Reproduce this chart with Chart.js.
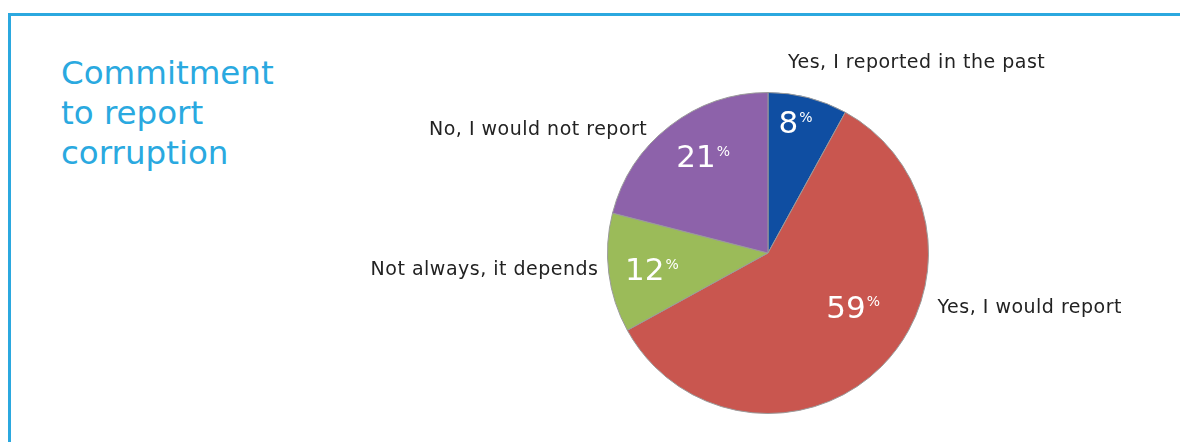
<!DOCTYPE html>
<html lang="en">
<head>
    <meta charset="UTF-8">
    <title>Commitment to report corruption</title>
    <script src="https://cdn.jsdelivr.net/npm/chart.js"></script>
    <style>
        body { margin: 0; background: #fff; }
        .wrap { position: relative; width: 1180px; height: 442px; overflow: hidden; }
        .frame {
            position: absolute; left: 8px; top: 13px; right: -10px; bottom: -10px;
            border-top: 3px solid #2ba8df; border-left: 3px solid #2ba8df;
        }
        .title {
            position: absolute; left: 61px; top: 53px;
            font-family: 'DejaVu Sans', sans-serif; font-size: 32.5px; line-height: 40px;
            color: #2aa9e0;
        }
        canvas { position: absolute; left: 0; top: 0; }
    </style>
</head>
<body>
<div class="wrap">
    <div class="frame"></div>
    <div class="title">Commitment<br>to report<br>corruption</div>
    <canvas id="pie" width="1180" height="442"></canvas>
</div>
<script>
    // survey answers, clockwise from twelve o'clock
    const categories = ['Yes, I reported in the past', 'Yes, I would report', 'Not always, it depends', 'No, I would not report'];
    const shares = [8, 59, 12, 21];
    const sliceColors = ['#0f4ea2', '#c9564f', '#9bbb59', '#8d62aa'];

    // label anchors in units of the pie radius, relative to its centre
    const valueSpots = [[0.168, -0.801], [0.528, 0.348], [-0.727, 0.112], [-0.407, -0.590]];
    const nameSpots = [[0.124, -1.186, 'left'], [1.056, 0.342, 'left'], [-1.056, 0.106, 'right'], [-0.752, -0.764, 'right']];

    const sliceLabels = {
        id: 'sliceLabels',
        afterDatasetsDraw(chart) {
            const ctx = chart.ctx;
            const arcs = chart.getDatasetMeta(0).data;
            ctx.save();
            ctx.textBaseline = 'middle';
            arcs.forEach((arc, i) => {
                const { x, y, outerRadius: r } = arc.getProps(['x', 'y', 'outerRadius'], true);

                // percentage inside the slice, with a small raised % sign
                const num = String(chart.data.datasets[0].data[i]);
                ctx.letterSpacing = '0px';
                ctx.font = '31px "DejaVu Sans"';
                const wNum = ctx.measureText(num).width;
                ctx.font = '14px "DejaVu Sans"';
                const wPct = ctx.measureText('%').width;
                const cx = x + valueSpots[i][0] * r;
                const cy = y + valueSpots[i][1] * r;
                const left = cx - (wNum + wPct) / 2;
                ctx.fillStyle = '#ffffff';
                ctx.textAlign = 'left';
                ctx.font = '31px "DejaVu Sans"';
                ctx.fillText(num, left, cy + 1);
                ctx.font = '14px "DejaVu Sans"';
                ctx.fillText('%', left + wNum + 1, cy - 6);

                // category name outside the pie
                const [nx, ny, align] = nameSpots[i];
                ctx.fillStyle = '#222222';
                ctx.textAlign = align;
                ctx.letterSpacing = '0.5px';
                ctx.font = '19px "DejaVu Sans"';
                ctx.fillText(chart.data.labels[i], x + nx * r, y + ny * r);
            });
            ctx.restore();
        }
    };

    new Chart(document.getElementById('pie'), {
        type: 'pie',
        data: {
            labels: categories,
            datasets: [{
                data: shares,
                backgroundColor: sliceColors,
                borderColor: '#9a9a9a',
                borderWidth: 1
            }]
        },
        options: {
            responsive: false,
            animation: false,
            layout: { padding: { left: 607, right: 251, top: 92, bottom: 28 } },
            plugins: {
                legend: { display: false },
                tooltip: { enabled: false }
            }
        },
        plugins: [sliceLabels]
    });
</script>
</body>
</html>
